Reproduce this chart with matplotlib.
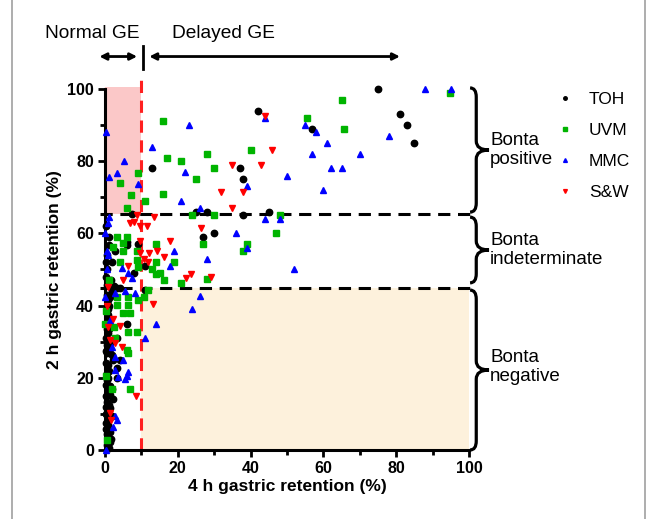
import numpy as np
import matplotlib.pyplot as plt
from matplotlib.path import Path
from matplotlib.patches import PathPatch, Rectangle
from matplotlib.lines import Line2D

plt.rcParams['font.family'] = ['Liberation Sans', 'DejaVu Sans']

# (4 h retention, 2 h retention) per centre
toh = [(75, 100), (42, 94), (81, 93), (83, 90), (85, 85), (57, 89), (13, 78), (37, 78),
       (38, 75), (25, 66), (28, 66), (38, 65), (45, 66), (27, 59), (30, 60), (11, 51),
       (7.3, 65.5), (1.2, 59), (6, 57.7), (6, 56.8), (9, 57), (1.1, 56.8), (2.8, 55),
       (0.3, 52.2), (8.1, 49), (0.5, 45.7), (3.2, 44.8), (4.1, 45), (11, 44.3), (0.5, 43),
       (1.4, 42.5), (0.5, 38), (0.9, 37.4), (6.1, 35), (0.9, 32.3), (3.2, 31), (0.5, 29),
       (0.5, 26.8), (1.8, 26.3), (2.3, 25), (4.1, 25), (0.9, 23.5), (3.2, 22.6), (0.5, 21.2),
       (0.9, 20), (3.2, 20), (1.4, 15.2), (0.5, 13.4), (2.3, 14), (1.4, 11.5), (0.9, 8.8),
       (0.9, 6.9), (1.4, 5.1), (0.9, 3.7), (1.4, 2.3), (0.5, 1.4), (0.3, 48), (0.5, 50),
       (1, 40), (0.3, 35), (1.2, 33.5), (0.4, 31), (1.5, 28), (0.2, 24), (2, 17), (0.3, 18),
       (0.7, 16), (0.3, 10), (0.5, 4.5), (0.2, 12), (1.8, 9.5), (1.0, 0.5), (0.3, 7.5),
       (0.8, 27.5), (2.5, 45.5), (1.6, 47), (0.6, 54), (2.0, 52), (0.4, 62), (0.8, 39),
       (1.2, 36), (0.6, 33.5), (1.7, 30), (0.2, 27.5), (1.1, 22), (0.5, 19.5), (1.3, 17.8),
       (0.2, 15), (1.0, 12.5), (0.5, 9.8), (0.3, 5.8), (1.6, 3.0), (0.8, 41.5), (1.9, 44)]

uvm = [(16, 91), (28, 82), (17, 81), (21, 80), (30, 78), (40, 83), (25, 75), (16, 71),
       (11, 69), (24, 65), (30, 65), (48, 65), (47, 60), (39, 57), (38, 55), (27, 57),
       (14, 57), (14, 52), (19, 52), (13, 50), (15, 49), (28, 47.4), (55.5, 92), (65, 97),
       (65.7, 89), (94.7, 99), (21, 46.2), (16.1, 47), (14, 48.8), (11.9, 44.3), (10.6, 42.5),
       (9, 76.8), (4.1, 74), (7.1, 70.6), (6.1, 67), (3.2, 59), (6.1, 59), (5, 57.3),
       (2.3, 56.3), (5, 55), (8.7, 55), (4.1, 52.2), (8.7, 52.6), (9, 50.8), (1.1, 47.1),
       (3.2, 42.3), (6.4, 42.3), (3.2, 40.2), (6.4, 40.2), (9.2, 41.5), (5, 37.9), (6.9, 37.9),
       (0, 35), (2.6, 34.2), (6.4, 32.8), (8.7, 32.8), (2.8, 31), (6.1, 27.7), (6.4, 26.8),
       (1.8, 16.8), (6.9, 16.8), (0.5, 2.8), (0.3, 38.5), (0.4, 20.5)]

mmc = [(23, 90), (13, 84), (22, 77), (50, 76), (39, 73), (21, 69), (26, 67), (44, 64),
       (48, 64), (36, 60), (39, 56), (28, 53), (19, 55), (18, 51), (52, 50), (44, 92),
       (55, 90), (88, 100), (95, 100), (58, 88), (61, 85), (78, 87), (57, 82), (70, 82),
       (62, 78), (65, 78), (60, 72), (24, 39), (26, 42.7), (14, 35), (11, 31),
       (0.3, 88), (5.2, 80), (3.2, 76.6), (1.2, 75.7), (9, 73.7), (1.2, 64.6), (0.9, 62.8),
       (0, 60), (0.5, 55), (0.9, 54), (4.6, 50.3), (6.4, 49), (7.3, 47.6), (5.5, 44),
       (8.3, 43.4), (0, 42.5), (2.8, 43.4), (1.8, 28.6), (2.8, 25.8), (5, 25), (6.4, 21.7),
       (3.7, 20.3), (6, 20.5), (2.8, 22.2), (5.5, 19.6), (2.8, 9.4), (3.2, 8.3), (2.3, 6.3),
       (0.2, 0), (0.5, 50), (1.5, 36)]

sw = [(46, 83), (35, 79), (43, 79), (32, 71.5), (38, 71.5), (35, 67), (44, 92.6),
      (13.4, 64.6), (26.4, 61.4), (17.8, 58), (11.5, 62), (14.4, 55), (16.3, 53.4),
      (22.2, 47.6), (23.7, 48.7), (29.2, 48), (12.1, 54.5), (13.3, 40.5), (11.9, 52),
      (8.7, 65), (6.9, 62.8), (8, 63.2), (9.6, 62), (9.6, 54.5), (10.6, 52.8), (6.4, 51),
      (5, 47.1), (0.9, 45.2), (2.3, 36.2), (4.1, 34.3), (0.9, 34.2), (1.4, 30.5), (2.8, 29.6),
      (4.6, 28.4), (8.5, 15), (1.4, 10.3), (1.7, 8.3), (9.5, 58), (0.5, 40)]

series = [('TOH', toh, 'o', 'black', 4.6),
          ('UVM', uvm, 's', '#00b400', 4.6),
          ('MMC', mmc, '^', '#0000ff', 5.0),
          ('S&W', sw, 'v', '#ff0000', 5.0)]

fig = plt.figure(figsize=(6.5, 5.19), dpi=100)
ax = fig.add_axes([0.1615, 0.133, 0.56, 0.6955])

# shaded zones
ax.add_patch(Rectangle((0, 65.5), 10, 35, facecolor='#fbc8c8', edgecolor='none', zorder=0, clip_on=False))
ax.add_patch(Rectangle((10, 0), 90, 45, facecolor='#fdf1dc', edgecolor='none', zorder=0))

# cut-off lines
ax.plot([-1.5, 100.5], [65.5, 65.5], ls=(0, (4, 2.5)), color='black', lw=2.2, zorder=1, clip_on=False)
ax.plot([-1.5, 100.5], [45, 45], ls=(0, (4, 2.5)), color='black', lw=2.2, zorder=1, clip_on=False)
ax.plot([10, 10], [0, 104], ls=(0, (4, 2.5)), color='#ff2020', lw=2.2, zorder=1, clip_on=False)

for name, pts, m, c, ms in series:
    xs = [p[0] for p in pts]
    ys = [p[1] for p in pts]
    ax.plot(xs, ys, ls='none', marker=m, color=c, ms=ms, mec=c, label=name, zorder=3, clip_on=False)

ax.set_xlim(0, 100)
ax.set_ylim(0, 100)
ax.set_xticks(np.arange(0, 101, 20))
ax.set_yticks(np.arange(0, 101, 20))
ax.set_xticks(np.arange(10, 100, 20), minor=True)
ax.set_yticks(np.arange(10, 100, 20), minor=True)
for s in ['top', 'right']:
    ax.spines[s].set_visible(False)
for s in ['left', 'bottom']:
    ax.spines[s].set_linewidth(2.2)
ax.tick_params(which='major', direction='out', length=5, width=2, labelsize=11.5, pad=3)
ax.tick_params(which='minor', direction='out', length=3.5, width=2)
for lab in ax.get_xticklabels() + ax.get_yticklabels():
    lab.set_fontweight('bold')
ax.set_xlabel('4 h gastric retention (%)', fontsize=12.5, fontweight='bold', labelpad=2)
ax.set_ylabel('2 h gastric retention (%)', fontsize=12.5, fontweight='bold', labelpad=4)


def brace(x0, x1, x2, ya, yb, r):
    ym = (ya + yb) / 2
    verts = [(x0, ya), (x1, ya), (x1, ya + r), (x1, ym - r), (x1, ym), (x2, ym),
             (x1, ym), (x1, ym + r), (x1, yb - r), (x1, yb), (x0, yb)]
    codes = [Path.MOVETO, Path.CURVE3, Path.CURVE3, Path.LINETO, Path.CURVE3, Path.CURVE3,
             Path.CURVE3, Path.CURVE3, Path.LINETO, Path.CURVE3, Path.CURVE3]
    ax.add_patch(PathPatch(Path(verts, codes), fill=False, lw=2.3, color='black', clip_on=False))


brace(100.3, 102.0, 105.5, 65.9, 100.3, 2.5)
brace(100.3, 102.0, 105.5, 46.3, 64.5, 2.5)
brace(100.3, 102.0, 105.5, 0, 44.3, 2.5)
ax.text(105.8, 83, 'Bonta\npositive', fontsize=13.5, va='center', ha='left', linespacing=1.15)
ax.text(105.8, 55.5, 'Bonta\nindeterminate', fontsize=13.5, va='center', ha='left', linespacing=1.15)
ax.text(105.8, 23, 'Bonta\nnegative', fontsize=13.5, va='center', ha='left', linespacing=1.15)

# GE arrows on top
ax.annotate('', xy=(-2.3, 109), xytext=(9.6, 109), annotation_clip=False,
            arrowprops=dict(arrowstyle='<|-|>', color='black', lw=2, mutation_scale=10))
ax.annotate('', xy=(11.4, 109), xytext=(81.8, 109), annotation_clip=False,
            arrowprops=dict(arrowstyle='<|-|>', color='black', lw=2, mutation_scale=10))
ax.plot([10.4, 10.4], [105.5, 112], color='black', lw=2, clip_on=False)
ax.text(-16.5, 115.5, 'Normal GE', fontsize=13.8, ha='left', va='center')
ax.text(18.5, 115.5, 'Delayed GE', fontsize=13.8, ha='left', va='center')

leg = ax.legend(loc='upper left', bbox_to_anchor=(0.842, 0.84), bbox_transform=fig.transFigure,
                frameon=False, fontsize=12.5, markerscale=0.55, handlelength=1.0,
                handletextpad=0.9, labelspacing=0.92, borderpad=0)

# grey frame on the sides
fig.add_artist(Line2D([0.018, 0.018], [0, 1], color='#a0a0a0', lw=1.2))
fig.add_artist(Line2D([0.992, 0.992], [0, 1], color='#a0a0a0', lw=1.2))

plt.savefig('out.png', dpi=100)
